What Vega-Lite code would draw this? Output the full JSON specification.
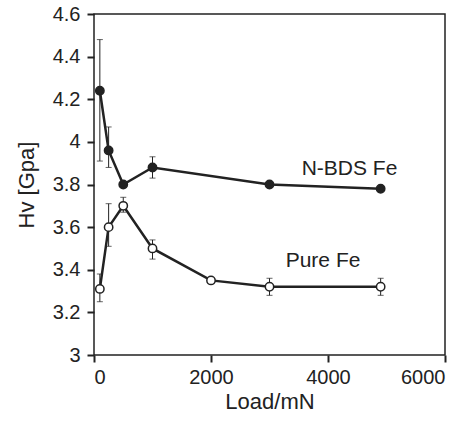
{
  "$schema": "https://vega.github.io/schema/vega-lite/v6.json",
  "width": 351,
  "height": 341,
  "autosize": {"type": "none"},
  "padding": {"left": 94, "top": 14, "right": 28, "bottom": 67},
  "background": "white",
  "config": {
    "view": {"stroke": "#222", "strokeWidth": 1.5},
    "font": "Liberation Sans",
    "axis": {
      "grid": false,
      "domain": false,
      "tickColor": "#222",
      "tickWidth": 2,
      "tickSize": 7,
      "labelFont": "Liberation Sans",
      "labelFontSize": 20,
      "labelColor": "#222",
      "titleFont": "Liberation Sans",
      "titleFontSize": 22,
      "titleFontWeight": "normal",
      "titleColor": "#222"
    }
  },
  "data": {
    "values": [
      {"series": "N-BDS Fe", "load": 100, "hv": 4.24, "lo": 3.91, "hi": 4.48},
      {"series": "N-BDS Fe", "load": 250, "hv": 3.96, "lo": 3.88, "hi": 4.07},
      {"series": "N-BDS Fe", "load": 500, "hv": 3.80, "lo": 3.79, "hi": 3.81},
      {"series": "N-BDS Fe", "load": 1000, "hv": 3.88, "lo": 3.83, "hi": 3.93},
      {"series": "N-BDS Fe", "load": 3000, "hv": 3.80, "lo": null, "hi": null},
      {"series": "N-BDS Fe", "load": 4900, "hv": 3.78, "lo": null, "hi": null},
      {"series": "Pure Fe", "load": 100, "hv": 3.31, "lo": 3.25, "hi": 3.38},
      {"series": "Pure Fe", "load": 250, "hv": 3.60, "lo": 3.51, "hi": 3.71},
      {"series": "Pure Fe", "load": 500, "hv": 3.70, "lo": 3.67, "hi": 3.74},
      {"series": "Pure Fe", "load": 1000, "hv": 3.50, "lo": 3.45, "hi": 3.54},
      {"series": "Pure Fe", "load": 2000, "hv": 3.35, "lo": null, "hi": null},
      {"series": "Pure Fe", "load": 3000, "hv": 3.32, "lo": 3.28, "hi": 3.36},
      {"series": "Pure Fe", "load": 4900, "hv": 3.32, "lo": 3.28, "hi": 3.36}
    ]
  },
  "layer": [
    {
      "transform": [{"filter": "datum.lo != null"}],
      "mark": {"type": "rule", "color": "#222", "strokeWidth": 1},
      "encoding": {
        "x": {"field": "load", "type": "quantitative", "scale": {"domain": [0, 6000], "nice": false}, "axis": {"values": [0, 2000, 4000, 6000], "format": "d", "title": "Load/mN", "titlePadding": 4, "labelPadding": 5}},
        "y": {"field": "lo", "type": "quantitative", "scale": {"domain": [3, 4.6], "nice": false, "zero": false}, "axis": {"values": [3, 3.2, 3.4, 3.6, 3.8, 4, 4.2, 4.4, 4.6], "format": "~g", "title": "Hv [Gpa]", "titlePadding": 14, "labelPadding": 7}},
        "y2": {"field": "hi"}
      }
    },
    {
      "transform": [{"filter": "datum.lo != null"}],
      "mark": {"type": "tick", "color": "#222", "orient": "horizontal", "size": 6, "thickness": 1},
      "encoding": {
        "x": {"field": "load", "type": "quantitative"},
        "y": {"field": "lo", "type": "quantitative"}
      }
    },
    {
      "transform": [{"filter": "datum.lo != null"}],
      "mark": {"type": "tick", "color": "#222", "orient": "horizontal", "size": 6, "thickness": 1},
      "encoding": {
        "x": {"field": "load", "type": "quantitative"},
        "y": {"field": "hi", "type": "quantitative"}
      }
    },
    {
      "mark": {"type": "line", "color": "#222", "strokeWidth": 2.5},
      "encoding": {
        "x": {"field": "load", "type": "quantitative"},
        "y": {"field": "hv", "type": "quantitative"},
        "detail": {"field": "series"}
      }
    },
    {
      "mark": {"type": "point", "shape": "circle", "size": 70, "strokeWidth": 1.5, "stroke": "#222", "opacity": 1},
      "encoding": {
        "x": {"field": "load", "type": "quantitative"},
        "y": {"field": "hv", "type": "quantitative"},
        "fill": {"field": "series", "type": "nominal", "scale": {"domain": ["N-BDS Fe", "Pure Fe"], "range": ["#222", "white"]}, "legend": null}
      }
    },
    {
      "data": {"values": [
        {"label": "N-BDS Fe", "lx": 4368, "ly": 3.873},
        {"label": "Pure Fe", "lx": 3915, "ly": 3.443}
      ]},
      "mark": {"type": "text", "fontSize": 21, "color": "#222", "font": "Liberation Sans", "baseline": "middle", "align": "center"},
      "encoding": {
        "x": {"field": "lx", "type": "quantitative"},
        "y": {"field": "ly", "type": "quantitative"},
        "text": {"field": "label"}
      }
    }
  ]
}
